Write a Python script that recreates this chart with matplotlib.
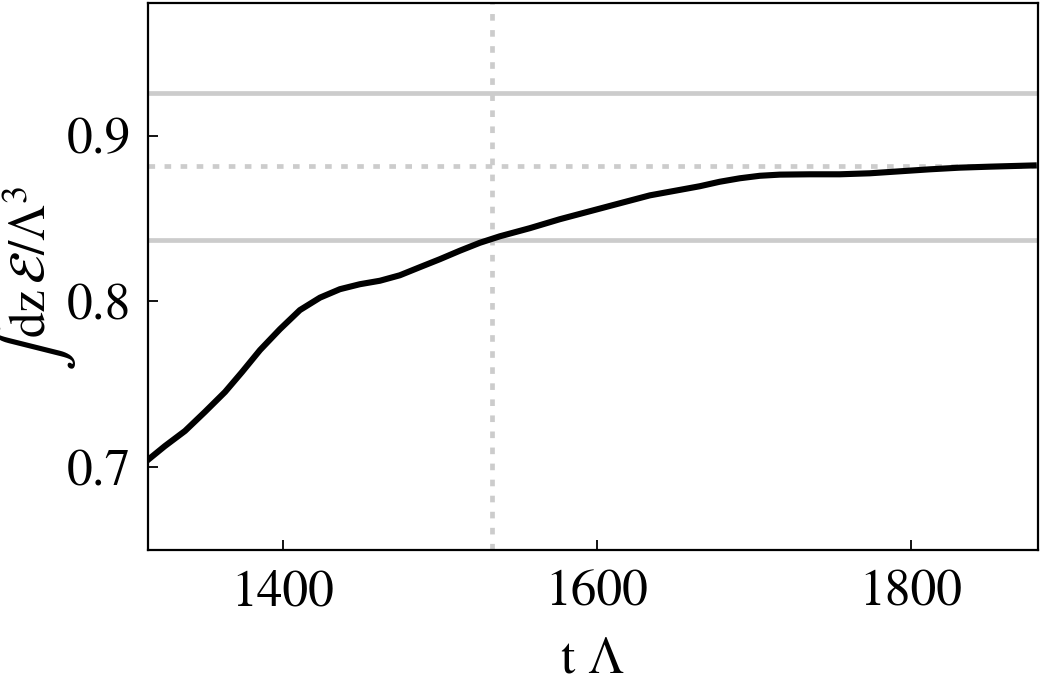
import matplotlib
matplotlib.use("Agg")
import matplotlib.pyplot as plt

# energy curve
t_values = [1313.4, 1324.8, 1337.6, 1350.3, 1363.1, 1373.9, 1385.4, 1398.1, 1410.8,
            1423.6, 1436.3, 1449.0, 1461.8, 1474.5, 1487.3, 1500.0, 1512.7, 1525.5,
            1538.2, 1557.3, 1576.4, 1595.5, 1614.6, 1633.8, 1652.9, 1665.6, 1678.3,
            1691.1, 1703.8, 1716.6, 1735.7, 1754.8, 1773.9, 1793.0, 1812.1, 1831.2,
            1850.3, 1880.3]
energy = [0.7040, 0.7128, 0.7219, 0.7334, 0.7454, 0.7574, 0.7707, 0.7833, 0.7948,
          0.8023, 0.8074, 0.8104, 0.8125, 0.8158, 0.8207, 0.8255, 0.8306, 0.8354,
          0.8393, 0.8442, 0.8496, 0.8544, 0.8592, 0.8640, 0.8673, 0.8695, 0.8722,
          0.8743, 0.8758, 0.8765, 0.8767, 0.8767, 0.8773, 0.8785, 0.8797, 0.8807,
          0.8813, 0.8821]

band_levels = [0.8370, 0.9255]
final_level = 0.8815
t_marker = 1533.0

x_ticks = [1400, 1600, 1800]
y_ticks = [0.7, 0.8, 0.9]

plt.rcParams["font.family"] = ["STIXGeneral", "Liberation Serif", "DejaVu Serif"]
plt.rcParams["mathtext.fontset"] = "stix"

fig = plt.figure(figsize=(10.42, 6.86), dpi=100)
ax = fig.add_axes([0.142, 0.198, 0.854, 0.7976])

gray = "#cccccc"
for level in band_levels:
    ax.axhline(level, color=gray, lw=3.4, zorder=1)
dotted = (0, (1.4, 2.0))
ax.axhline(final_level, color=gray, lw=3.4, ls=dotted, zorder=1)
ax.axvline(t_marker, color=gray, lw=3.4, ls=dotted, zorder=1)

ax.plot(t_values, energy, color="black", lw=4.4,
        solid_joinstyle="round", solid_capstyle="butt", zorder=3)

ax.set_xlim(1314, 1881)
ax.set_ylim(0.65, 0.98)
ax.set_xticks(x_ticks)
ax.set_yticks(y_ticks)
ax.set_xticklabels([str(t) for t in x_ticks])
ax.set_yticklabels([f"{v:.1f}" for v in y_ticks])

ax.tick_params(direction="in", length=7, width=1.3, labelsize=37,
               top=False, right=False)
ax.tick_params(axis="x", pad=14)
ax.tick_params(axis="y", pad=12)
for spine in ax.spines.values():
    spine.set_linewidth(1.6)

ax.set_xlabel("t \u039b", fontsize=37, labelpad=15)

# y label in two pieces so the integral sign can be drawn larger
fig.text(0.031, 1 - 338 / 686, r"$\mathrm{dz}\,\mathcal{E}/\Lambda^3$",
         rotation=90, fontsize=37, ha="center", va="bottom")
fig.text(34 / 1042, 1 - 347 / 686, r"$\int$", rotation=90, fontsize=52,
         ha="center", va="center")

fig.savefig("out.png", dpi=100)
